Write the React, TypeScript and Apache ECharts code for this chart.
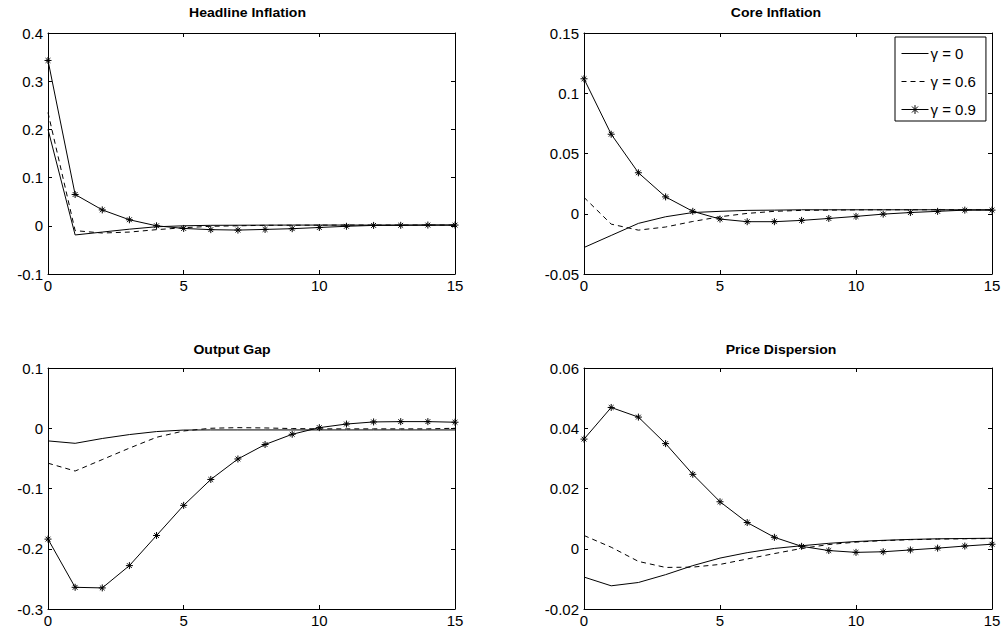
import React, { useEffect, useRef } from "react";
import * as echarts from "echarts";

const steps = [0, 1, 2, 3, 4, 5, 6, 7, 8, 9, 10, 11, 12, 13, 14, 15];
const seriesNames = ["γ = 0", "γ = 0.6", "γ = 0.9"];
const panelTitles = ["Headline Inflation", "Core Inflation", "Output Gap", "Price Dispersion"];

// Headline Inflation
const headG0 = [0.2, -0.019, -0.013, -0.007, -0.002, 0.0, 0.001, 0.0012, 0.0014, 0.0015, 0.0015, 0.0015, 0.0015, 0.0015, 0.0015, 0.0015];
const headG06 = [0.235, -0.01, -0.015, -0.013, -0.008, -0.004, -0.001, 0.0, 0.001, 0.0012, 0.0014, 0.0015, 0.0015, 0.0015, 0.0015, 0.0015];
const headG09 = [0.343, 0.065, 0.033, 0.0125, 0.0, -0.0055, -0.008, -0.0089, -0.0075, -0.006, -0.0035, -0.001, 0.0008, 0.001, 0.0015, 0.0015];

// Core Inflation
const coreG0 = [-0.028, -0.018, -0.008, -0.0025, 0.001, 0.002, 0.0028, 0.003, 0.0033, 0.0033, 0.0033, 0.0033, 0.0033, 0.0033, 0.0033, 0.0033];
const coreG06 = [0.0136, -0.0086, -0.0136, -0.011, -0.0064, -0.0025, 0.0003, 0.002, 0.0028, 0.003, 0.0032, 0.0033, 0.0033, 0.0033, 0.0033, 0.0033];
const coreG09 = [0.112, 0.066, 0.034, 0.014, 0.002, -0.0044, -0.0066, -0.0066, -0.0055, -0.0039, -0.0022, -0.0003, 0.001, 0.002, 0.003, 0.003];

// Output Gap
const gapG0 = [-0.021, -0.025, -0.017, -0.0105, -0.0055, -0.003, -0.0028, -0.0028, -0.0028, -0.0028, -0.0028, -0.0028, -0.0028, -0.0028, -0.0028, -0.0028];
const gapG06 = [-0.058, -0.071, -0.052, -0.033, -0.015, -0.0045, 0.0, 0.001, 0.0005, -0.0005, -0.001, -0.001, -0.001, -0.001, -0.001, 0.0];
const gapG09 = [-0.184, -0.264, -0.265, -0.228, -0.178, -0.128, -0.085, -0.051, -0.027, -0.01, 0.001, 0.007, 0.0105, 0.011, 0.011, 0.01];

// Price Dispersion
const dispG0 = [-0.0094, -0.0123, -0.0112, -0.0086, -0.0056, -0.0031, -0.0013, 0.0001, 0.001, 0.0018, 0.0024, 0.0028, 0.0031, 0.0033, 0.0034, 0.0035];
const dispG06 = [0.0044, 0.0005, -0.0042, -0.0062, -0.0061, -0.0052, -0.0034, -0.0016, 0.0001, 0.0014, 0.0022, 0.0027, 0.003, 0.0032, 0.0033, 0.0034];
const dispG09 = [0.0364, 0.0469, 0.0437, 0.0349, 0.0247, 0.0156, 0.0087, 0.0038, 0.0008, -0.0006, -0.0012, -0.001, -0.0004, 0.0002, 0.0009, 0.0015];

const panelData = [
  [headG0, headG06, headG09],
  [coreG0, coreG06, coreG09],
  [gapG0, gapG06, gapG09],
  [dispG0, dispG06, dispG09],
];
const yMins = [-0.1, -0.05, -0.3, -0.02];
const yMaxs = [0.4, 0.15, 0.1, 0.06];
const yIntervals = [0.1, 0.05, 0.1, 0.02];
const xMin = 0;
const xMax = 15;
const xInterval = 5;

const FONT = "Liberation Sans, Arial, Helvetica, sans-serif";
const STAR = "path://M5 0L5 10M0 5L10 5M1.6 1.6L8.4 8.4M1.6 8.4L8.4 1.6";
const CLEAR = "rgba(0,0,0,0)";

const grids = [
  { left: 48, top: 33, width: 407, height: 241 },
  { left: 584, top: 33, width: 408, height: 241 },
  { left: 48, top: 368, width: 407, height: 241 },
  { left: 584, top: 368, width: 408, height: 241 },
];
const titlePos = [
  [247.5, 13],
  [776, 13],
  [232, 350],
  [781, 350],
];

function fmt(v: number) {
  return String(parseFloat(v.toFixed(4)));
}

export default function App() {
  const ref = useRef<HTMLDivElement>(null);
  useEffect(() => {
    if (!ref.current) return;
    const chart = echarts.init(ref.current, undefined, { renderer: "svg" });
    const xAxis: any[] = [];
    const yAxis: any[] = [];
    const series: any[] = [];
    const tick = { show: true, inside: true, length: 4, lineStyle: { color: "#000", width: 1 } };
    const line = { show: true, onZero: false, lineStyle: { color: "#000", width: 1 } };
    grids.forEach((g, i) => {
      xAxis.push({
        type: "value", gridIndex: i, min: xMin, max: xMax, interval: xInterval, position: "bottom",
        axisLine: line, axisTick: tick, splitLine: { show: false },
        axisLabel: { color: "#000", fontSize: 15, fontFamily: FONT, margin: 4 },
      });
      xAxis.push({
        type: "value", gridIndex: i, min: xMin, max: xMax, interval: xInterval, position: "top",
        axisLine: line, axisTick: tick, splitLine: { show: false }, axisLabel: { show: false },
      });
      yAxis.push({
        type: "value", gridIndex: i, min: yMins[i], max: yMaxs[i], interval: yIntervals[i], position: "left",
        axisLine: line, axisTick: tick, splitLine: { show: false },
        axisLabel: { color: "#000", fontSize: 15, fontFamily: FONT, margin: 5, formatter: fmt },
      });
      yAxis.push({
        type: "value", gridIndex: i, min: yMins[i], max: yMaxs[i], interval: yIntervals[i], position: "right",
        axisLine: line, axisTick: tick, splitLine: { show: false }, axisLabel: { show: false },
      });
      panelData[i].forEach((vals, k) => {
        series.push({
          type: "line",
          name: seriesNames[k],
          xAxisIndex: 2 * i,
          yAxisIndex: 2 * i,
          data: vals.map((v, j) => [steps[j], v]),
          symbol: k === 2 ? STAR : "none",
          symbolSize: 7,
          showSymbol: k === 2,
          lineStyle: { color: "#000", width: 1, type: k === 1 ? [5, 4] : "solid" },
          itemStyle: { color: "#000", borderColor: "#000", borderWidth: 1 },
          silent: true,
          z: 3 - k,
        });
      });
    });
    chart.setOption({
      animation: false,
      backgroundColor: "#fff",
      grid: grids.map((g) => ({ ...g, containLabel: false })),
      xAxis,
      yAxis,
      series,
      legend: {
        data: [
          { name: seriesNames[0], itemStyle: { color: CLEAR, borderColor: CLEAR, borderWidth: 0 } },
          { name: seriesNames[1], itemStyle: { color: CLEAR, borderColor: CLEAR, borderWidth: 0 } },
          { name: seriesNames[2], itemStyle: { color: "#000", borderColor: "#000", borderWidth: 1 } },
        ],
        orient: "vertical",
        left: 895,
        top: 37,
        itemWidth: 27,
        itemHeight: 11,
        itemGap: 13,
        padding: [9, 10, 4, 6],
        backgroundColor: "#fff",
        borderColor: "#000",
        borderWidth: 1,
        selectedMode: false,
        lineStyle: { width: 1 },
        textStyle: { color: "#000", fontSize: 15, fontFamily: FONT, lineHeight: 14, padding: [0, 0, 0, -3] },
        z: 10,
      },
      graphic: panelTitles.map((t, i) => ({
        type: "text",
        x: titlePos[i][0],
        y: titlePos[i][1],
        scaleX: 1.17,
        style: {
          text: t,
          fontFamily: FONT,
          fontWeight: "bold",
          fontSize: 12,
          fill: "#000",
          align: "center",
          verticalAlign: "middle",
        },
      })),
    });
    return () => chart.dispose();
  }, []);
  return (
    <div
      ref={ref}
      style={{ position: "absolute", left: 0, top: 0, width: 1005, height: 639, background: "#fff" }}
    />
  );
}
